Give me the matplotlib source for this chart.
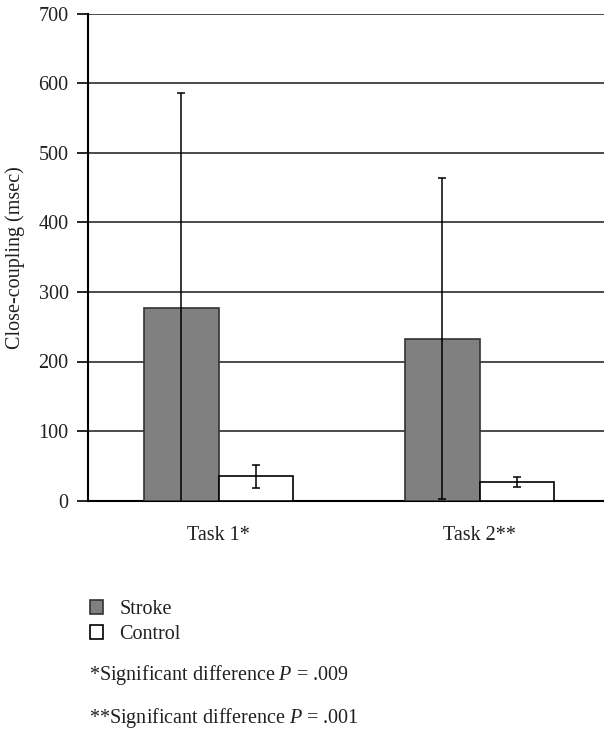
import numpy as np
import matplotlib.pyplot as plt

plt.rcParams['font.family'] = ['Liberation Serif', 'DejaVu Serif']
plt.rcParams['mathtext.fontset'] = 'custom'
plt.rcParams['mathtext.rm'] = 'Liberation Serif'
plt.rcParams['mathtext.it'] = 'Liberation Serif:italic'

tasks = ['Task 1*', 'Task 2**']
stroke_mean = [277, 233]
stroke_sd = [309, 231]
control_mean = [35, 27]
control_sd = [16.5, 7.5]

txt = '#231f20'
fs = 14.5
W, H = 604, 731
fig = plt.figure(figsize=(W / 100, H / 100), dpi=100)
ax = fig.add_axes([88 / W, 1 - 500.5 / H, 522 / W, 486.5 / H])

x = np.arange(len(tasks))
w = 0.285
b1 = ax.bar(x - w / 2, stroke_mean, w, color='#808080', edgecolor='#333333',
            linewidth=1.2, zorder=3, label='Stroke')
b2 = ax.bar(x + w / 2, control_mean, w, color='white', edgecolor='black',
            linewidth=1.2, zorder=3, label='Control')
ax.errorbar(x - w / 2, stroke_mean, yerr=stroke_sd, fmt='none', ecolor='black',
            elinewidth=1.1, capsize=3, capthick=1.1, zorder=4)
ax.errorbar(x + w / 2, control_mean, yerr=control_sd, fmt='none', ecolor='black',
            elinewidth=1.1, capsize=3, capthick=1.1, zorder=4)

ax.set_xlim(-0.5, 1.5)
ax.set_ylim(0, 700)
ax.set_yticks(range(0, 701, 100))
ax.yaxis.grid(True, color='#1a1a1a', linewidth=1.1, zorder=0)
ax.set_axisbelow(True)
for s in ['top', 'right']:
    ax.spines[s].set_visible(False)
ax.spines['left'].set_linewidth(1.5)
ax.spines['bottom'].set_linewidth(1.5)
ax.set_xticks(x)
ax.set_xticklabels(tasks)
ax.tick_params(axis='x', length=0, pad=18, labelsize=fs, labelcolor=txt)
ax.tick_params(axis='y', length=8, width=1.2, pad=6, labelsize=fs, labelcolor=txt)
ax.set_ylabel('Close-coupling (msec)', fontsize=fs, color=txt, labelpad=10)

fig.legend(handles=[b1, b2], loc='upper left', bbox_to_anchor=(82 / W, 1 - 592 / H),
           frameon=False, fontsize=fs, handlelength=0.65, handleheight=0.65,
           handletextpad=0.8, labelspacing=0.3, labelcolor=txt, borderaxespad=0)

fig.text(89 / W, 1 - 675 / H, r'*Significant difference $\mathit{P}$ = .009',
         fontsize=fs, color=txt, va='center')
fig.text(89 / W, 1 - 718 / H, r'**Significant difference $\mathit{P}$ = .001',
         fontsize=fs, color=txt, va='center')

fig.savefig('out.png', dpi=100)
